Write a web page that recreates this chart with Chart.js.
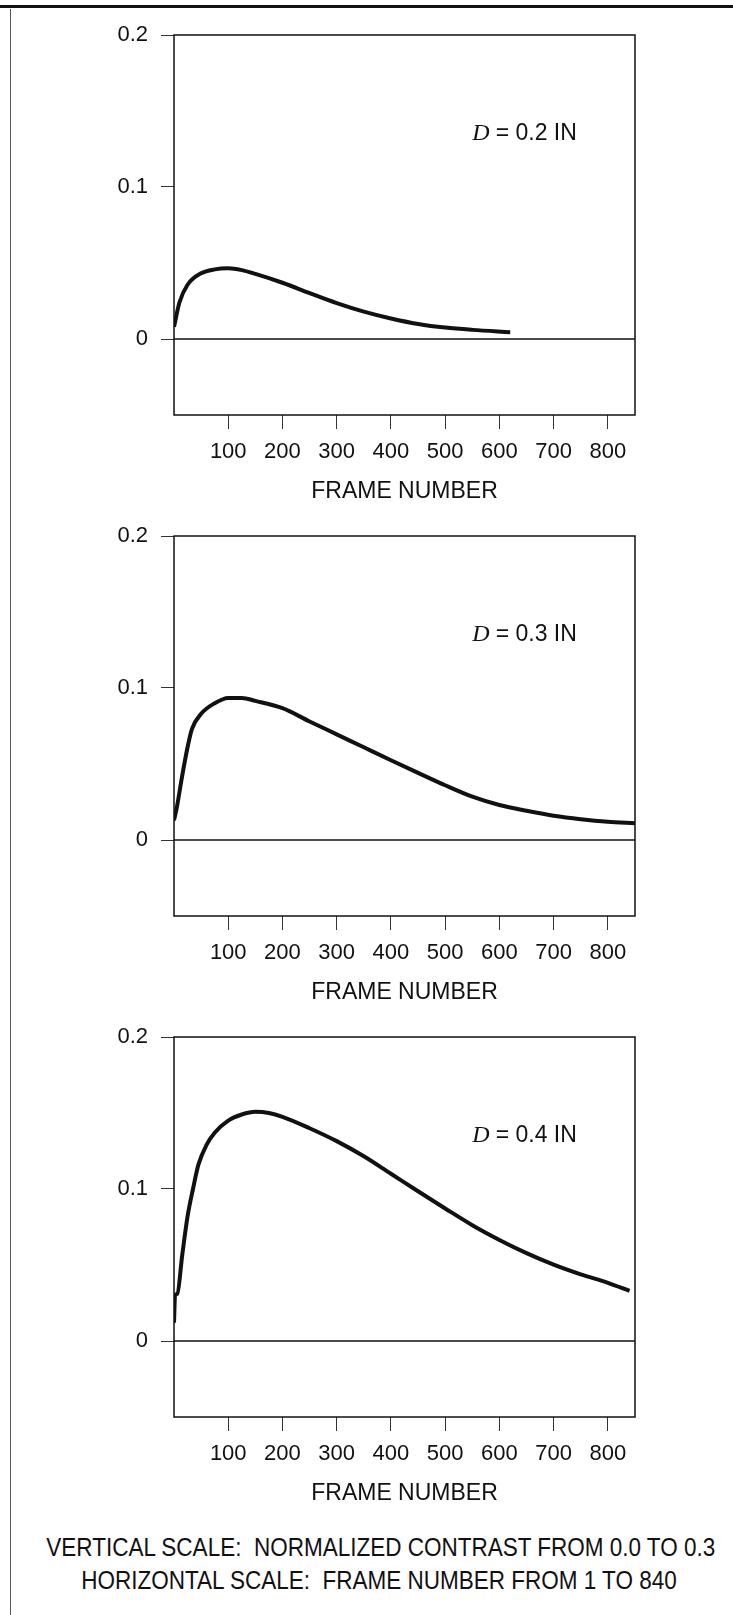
<!DOCTYPE html>
<html>
<head>
<meta charset="utf-8">
<script src="https://cdn.jsdelivr.net/npm/chart.js@4.4.0/dist/chart.umd.min.js"></script>
<style>
  html, body { margin: 0; padding: 0; background: #fff; }
  #page { position: relative; width: 733px; height: 1615px; overflow: hidden; }
  .topRule { position: absolute; left: 0; top: 5px; width: 733px; height: 3px; background: #111; }
  .leftRule { position: absolute; left: 10px; top: 9px; width: 1px; height: 1606px; background: #555; }
  .panel { position: absolute; left: 0; width: 733px; height: 503px; }
  .caption {
    position: absolute; white-space: pre; font-family: "Liberation Sans", Arial, sans-serif;
    font-size: 25px; line-height: 25px; color: #111;
    transform: scaleX(0.9); transform-origin: right center;
  }
</style>
</head>
<body>
<div id="page">
  <div class="topRule"></div>
  <div class="leftRule"></div>
  <div class="panel" style="top:0px"><canvas id="chart1" width="733" height="503"></canvas></div>
  <div class="panel" style="top:501px"><canvas id="chart2" width="733" height="503"></canvas></div>
  <div class="panel" style="top:1002px"><canvas id="chart3" width="733" height="503"></canvas></div>
  <div class="caption" style="right:18px; top:1535px">VERTICAL SCALE:  NORMALIZED CONTRAST FROM 0.0 TO 0.3</div>
  <div class="caption" style="right:56px; top:1568px">HORIZONTAL SCALE:  FRAME NUMBER FROM 1 TO 840</div>
</div>
<script>
'use strict';

// DATA
// D = 0.2 IN
const frames1 = [0, 10, 25, 50, 75, 100, 125, 150, 200, 250, 300, 350, 400, 450, 500, 550, 620];
const contrast1 = [0.008, 0.024, 0.0357, 0.0432, 0.0458, 0.0465, 0.0453, 0.0428, 0.037, 0.0302, 0.0236, 0.018, 0.0135, 0.0099, 0.0075, 0.006, 0.0045];

// D = 0.3 IN
const frames2 = [0, 5, 15, 25, 33, 50, 75, 100, 125, 150, 200, 250, 300, 350, 400, 450, 500, 550, 600, 650, 700, 750, 800, 850];
const contrast2 = [0.013, 0.021, 0.042, 0.061, 0.073, 0.083, 0.09, 0.0935, 0.0935, 0.0915, 0.0867, 0.078, 0.0695, 0.061, 0.0525, 0.0442, 0.036, 0.0285, 0.023, 0.0192, 0.016, 0.0137, 0.012, 0.011];

// D = 0.4 IN
const frames3 = [0, 2, 6, 15, 25, 35, 45, 60, 75, 100, 125, 150, 175, 200, 250, 300, 350, 400, 450, 500, 550, 600, 650, 700, 750, 800, 840];
const contrast3 = [0.012, 0.03, 0.031, 0.056, 0.082, 0.1, 0.116, 0.129, 0.137, 0.145, 0.149, 0.1508, 0.15, 0.1475, 0.14, 0.1315, 0.1215, 0.11, 0.0985, 0.0872, 0.0762, 0.0665, 0.0578, 0.0502, 0.0438, 0.0383, 0.033];

const diameters = ['0.2', '0.3', '0.4'];
const xTickValues = [100, 200, 300, 400, 500, 600, 700, 800];
const yTickValues = [0, 0.1, 0.2];
const xRange = [0, 850];
const yRange = [-0.05, 0.2];
const labelAt = [550, 0.135]; // where the "D = ..." note sits, in data units

const SANS = '"Liberation Sans", Arial, sans-serif';
const INK = '#111';

// PLUGINS
// closed frame round the plot + the D note
const frameAndNote = {
  id: 'frameAndNote',
  afterDraw(chart, args, opts) {
    const { ctx, chartArea: a, scales } = chart;
    ctx.save();
    ctx.strokeStyle = INK;
    ctx.lineWidth = 1.5;
    ctx.strokeRect(a.left, a.top, a.right - a.left, a.bottom - a.top);

    const px = scales.x.getPixelForValue(labelAt[0]);
    const py = scales.y.getPixelForValue(labelAt[1]);
    ctx.fillStyle = INK;
    ctx.textBaseline = 'middle';
    ctx.font = 'italic 24px "Liberation Serif", serif';
    ctx.fillText('D', px, py);
    const w = ctx.measureText('D').width;
    ctx.font = '23px ' + SANS;
    ctx.fillText('= ' + opts.diameter + ' IN', px + w + 6, py);
    ctx.restore();
  },
};

const makeChart = function (id, frames, values, diameter) {
  const ctx = document.getElementById(id).getContext('2d');
  return new Chart(ctx, {
    type: 'line',
    data: {
      datasets: [
        {
          label: 'D = ' + diameter + ' IN',
          data: frames.map((f, i) => ({ x: f, y: values[i] })),
          borderColor: INK,
          borderWidth: 4,
          pointRadius: 0,
          cubicInterpolationMode: 'monotone',
          fill: false,
        },
        {
          // zero reference line
          label: 'zero',
          data: [{ x: xRange[0], y: 0 }, { x: xRange[1], y: 0 }],
          borderColor: INK,
          borderWidth: 1.5,
          pointRadius: 0,
          fill: false,
        },
      ],
    },
    options: {
      responsive: false,
      animation: false,
      devicePixelRatio: 1,
      layout: { padding: { top: 35, right: 98, left: 0, bottom: 0 } },
      plugins: {
        legend: { display: false },
        tooltip: { enabled: false },
        frameAndNote: { diameter: diameter },
      },
      scales: {
        x: {
          type: 'linear',
          min: xRange[0],
          max: xRange[1],
          afterBuildTicks: scale => {
            scale.ticks = xTickValues.map(v => ({ value: v }));
          },
          afterFit: scale => {
            scale.height = 88;
          },
          border: { display: false },
          grid: { drawOnChartArea: false, drawTicks: true, tickLength: 14, color: '#333', lineWidth: 1 },
          ticks: { color: INK, font: { family: SANS, size: 22 }, padding: 10, maxRotation: 0 },
          title: {
            display: true,
            text: 'FRAME NUMBER',
            color: INK,
            font: { family: SANS, size: 23, lineHeight: 1 },
            padding: { top: 0, bottom: 0 },
          },
        },
        y: {
          type: 'linear',
          min: yRange[0],
          max: yRange[1],
          afterBuildTicks: scale => {
            scale.ticks = yTickValues.map(v => ({ value: v }));
          },
          afterFit: scale => {
            scale.width = 174;
          },
          border: { display: false },
          grid: { drawOnChartArea: false, drawTicks: true, tickLength: 13, color: '#333', lineWidth: 1 },
          ticks: {
            color: INK,
            font: { family: SANS, size: 22 },
            padding: 13,
            callback: v => (v === 0 ? '0' : v.toFixed(1)),
          },
        },
      },
    },
    plugins: [frameAndNote],
  });
};

// CHARTS
makeChart('chart1', frames1, contrast1, diameters[0]);
makeChart('chart2', frames2, contrast2, diameters[1]);
makeChart('chart3', frames3, contrast3, diameters[2]);
</script>
</body>
</html>
